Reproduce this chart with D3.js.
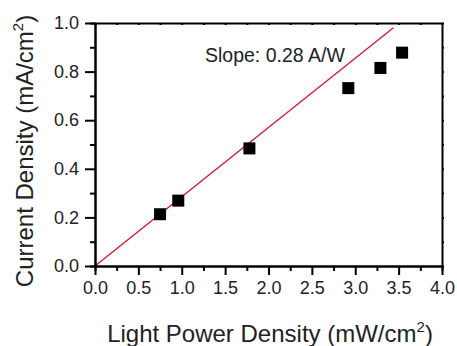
<!DOCTYPE html>
<html>
<head>
<meta charset="utf-8">
<script src="https://cdn.jsdelivr.net/npm/d3@7"></script>
<style>
  body { margin: 0; background: #fff; }
  svg { display: block; font-family: "Liberation Sans", Arial, sans-serif; }
</style>
</head>
<body>
<svg id="chart" width="457" height="346"></svg>
<script>
// measured points
var lightPower = [0.75, 0.96, 1.78, 2.92, 3.29, 3.54];
var currentDensity = [0.213, 0.269, 0.484, 0.732, 0.815, 0.878];
// linear fit drawn from origin
var fitX = [0, 3.44];
var fitY = [0, 0.98];
var xTicks = [0, 0.5, 1, 1.5, 2, 2.5, 3, 3.5, 4];
var yTicks = [0, 0.2, 0.4, 0.6, 0.8, 1.0];
var slopeLabel = "Slope: 0.28 A/W";

var svg = d3.select("#chart"),
    margin = {top: 23, right: 15, bottom: 80, left: 95},
    width = 442 - margin.left,
    height = 266 - margin.top,
    g = svg.append("g").attr("transform", "translate(" + margin.left + "," + margin.top + ")");

var x = d3.scaleLinear().domain([0, 4]).range([0, width]);
var y = d3.scaleLinear().domain([0, 1]).range([height, 0]);

var xMinor = d3.range(0.25, 4, 0.5);
var yMinor = d3.range(0.1, 1, 0.2);

// fit line
g.append("line")
    .attr("x1", x(fitX[0])).attr("y1", y(fitY[0]))
    .attr("x2", x(fitX[1])).attr("y2", y(fitY[1]))
    .attr("stroke", "#e0102f")
    .attr("stroke-width", 1.3);

// markers
var sz = 12;
g.selectAll("rect.pt")
    .data(lightPower)
  .enter().append("rect")
    .attr("class", "pt")
    .attr("x", function(d) { return x(d) - sz / 2; })
    .attr("y", function(d, i) { return y(currentDensity[i]) - sz / 2; })
    .attr("width", sz)
    .attr("height", sz)
    .attr("fill", "#000");

function styleAxis(sel) {
  sel.select(".domain").attr("stroke", "#000").attr("stroke-width", 2);
  sel.selectAll(".tick line").attr("stroke", "#000").attr("stroke-width", 2);
  sel.selectAll(".tick text").attr("fill", "#222").attr("font-size", 18)
     .attr("font-family", "Liberation Sans, Arial, sans-serif");
}

// minor ticks first
g.append("g")
    .attr("transform", "translate(0," + height + ")")
    .call(d3.axisBottom(x).tickValues(xMinor).tickSize(5).tickFormat(""))
    .call(styleAxis);
g.append("g")
    .call(d3.axisLeft(y).tickValues(yMinor).tickSize(5).tickFormat(""))
    .call(styleAxis);

g.append("g")
    .attr("transform", "translate(0," + height + ")")
    .call(d3.axisBottom(x).tickValues(xTicks).tickSize(9).tickSizeOuter(0).tickPadding(6).tickFormat(d3.format(".1f")))
    .call(styleAxis);

g.append("g")
    .call(d3.axisLeft(y).tickValues(yTicks).tickSize(10).tickSizeOuter(0).tickPadding(6).tickFormat(d3.format(".1f")))
    .call(styleAxis);

// mirrored top and right axes with tiny ticks
g.append("g")
    .call(d3.axisTop(x).tickValues(xTicks.concat(xMinor)).tickSize(-2).tickSizeOuter(0).tickFormat(""))
    .call(styleAxis);
g.append("g")
    .attr("transform", "translate(" + width + ",0)")
    .call(d3.axisRight(y).tickValues(yTicks.concat(yMinor)).tickSize(2).tickSizeOuter(0).tickFormat(""))
    .call(styleAxis);

// slope annotation
g.append("text")
    .attr("x", 110)
    .attr("y", 39)
    .attr("font-size", 19.5)
    .attr("fill", "#222")
    .text(slopeLabel);

// axis titles
var xt = svg.append("text")
    .attr("x", 270)
    .attr("y", 342)
    .attr("text-anchor", "middle")
    .attr("font-size", 24)
    .attr("fill", "#222");
xt.append("tspan").text("Light Power Density (mW/cm");
xt.append("tspan").attr("font-size", 15).attr("dy", -10).text("2");
xt.append("tspan").attr("dy", 10).text(")");

var yt = svg.append("text")
    .attr("transform", "translate(33," + 151 + ") rotate(-90)")
    .attr("text-anchor", "middle")
    .attr("font-size", 24)
    .attr("fill", "#222");
yt.append("tspan").text("Current Density (mA/cm");
yt.append("tspan").attr("font-size", 15).attr("dy", -10).text("2");
yt.append("tspan").attr("dy", 10).text(")");
</script>
</body>
</html>
